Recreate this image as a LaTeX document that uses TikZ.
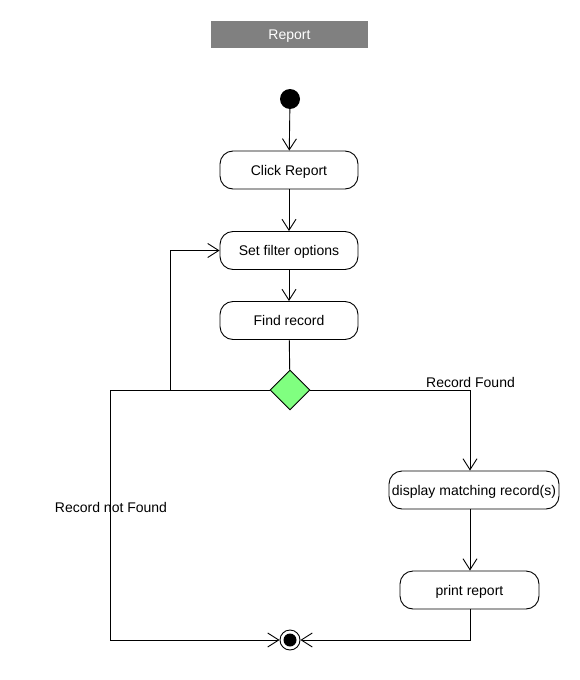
\documentclass[tikz,border=0pt]{standalone}
\usepackage{fontspec}
\setmainfont{Liberation Sans}
\usetikzlibrary{arrows.meta,shapes.geometric}
\tikzset{
  act/.style={draw,rounded corners=13pt,minimum height=38pt,inner sep=1pt,text height=10pt,text depth=0pt,font=\fontsize{14}{16}\selectfont,line width=0.9pt},
  flow/.style={line width=0.9pt,-{Straight Barb[length=11pt,width=14pt,line width=0.9pt]}},
  plain/.style={line width=0.9pt},
  lbl/.style={font=\fontsize{14}{16}\selectfont,inner sep=0pt,text height=10pt,text depth=0pt}
}
\begin{document}
\begin{tikzpicture}[x=1pt,y=-1pt]
\useasboundingbox (0,0) rectangle (580,680);
\node[fill={rgb,255:red,128;green,128;blue,128},minimum width=157pt,minimum height=27pt,inner sep=0pt,text=white,text height=10pt,text depth=0pt,font=\fontsize{14}{16}\selectfont] (title) at (289.5,34.5) {Report};
\node[circle,fill=black,minimum size=20pt,inner sep=0pt] (start) at (290,99) {};
\node[act,minimum width=138pt] (click) at (289,170) {Click Report};
\node[act,minimum width=138pt] (filter) at (289,250.5) {Set filter options};
\node[act,minimum width=138pt] (find) at (289,320.5) {Find record};
\node[diamond,draw,fill={rgb,255:red,128;green,255;blue,128},minimum width=40pt,minimum height=40pt,inner sep=0pt,line width=0.9pt] (dec) at (290,390) {};
\node[act,minimum width=170pt] (display) at (474,490) {display matching record(s)};
\node[act,minimum width=139pt] (print) at (469.5,590) {print report};
\node[circle,draw,minimum size=20pt,inner sep=0pt,line width=0.9pt] (end) at (290,640) {};
\fill (end.center) circle (6.5pt);
\coordinate (jl) at (110,390);
\coordinate (jf) at (170,390);
\coordinate (jr) at (470,390);
\draw[flow] (start) -- (click);
\draw[flow] (click) -- (filter);
\draw[flow] (filter) -- (find);
\draw[plain] (find) -- (dec);
\draw[flow] (dec.west) -- (jl) -- (jl |- end) -- (end.west);
\draw[flow] (jf) |- (filter.west);
\draw[flow] (dec.east) -- (jr) -- (jr |- display.north);
\draw[flow] (jr |- display.south) -- (jr |- print.north);
\draw[flow] (jr |- print.south) -- (jr |- end) -- (end.east);
\node[lbl] (found) at (470.5,382) {Record Found};
\node[lbl] (notfound) at (111,507) {Record not Found};
\end{tikzpicture}
\end{document}
